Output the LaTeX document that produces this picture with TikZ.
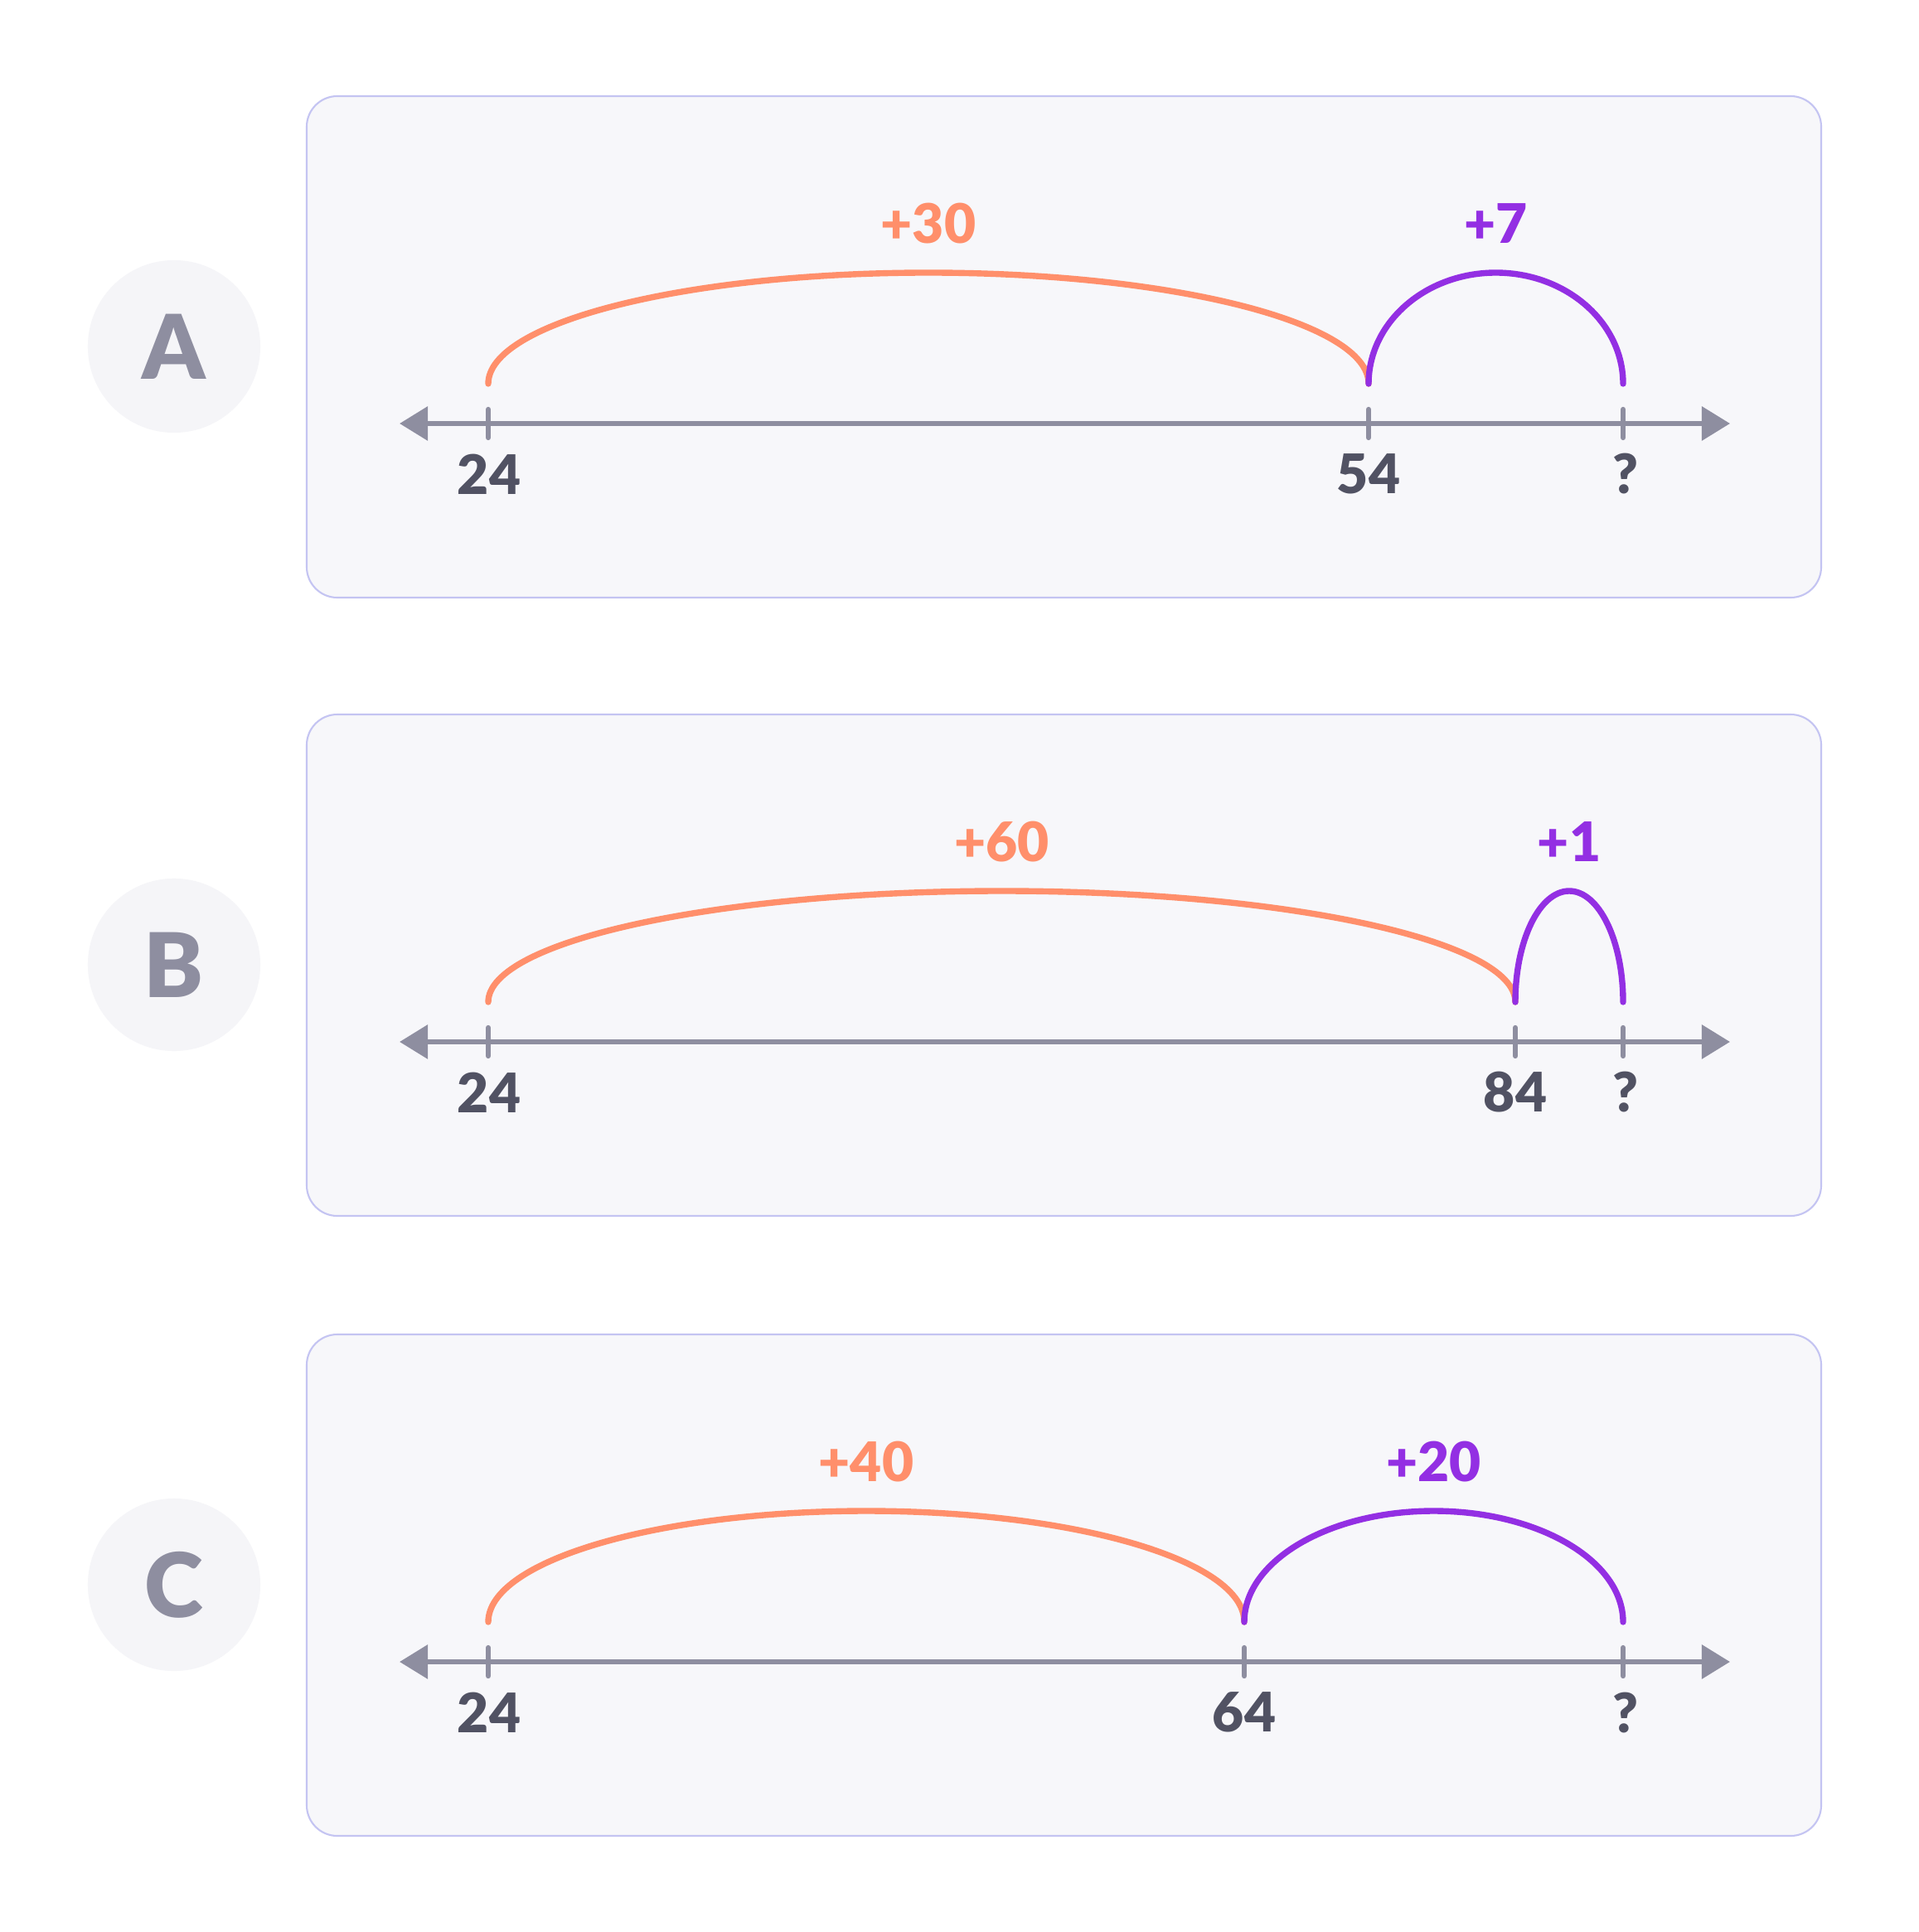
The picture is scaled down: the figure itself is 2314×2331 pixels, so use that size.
\documentclass[tikz,border=0pt]{standalone}
\usepackage{fontspec}
\setmainfont{Lato}[BoldFont={Lato Black}]
\usetikzlibrary{arrows.meta}
\definecolor{boxfill}{HTML}{F7F7FA}
\definecolor{boxline}{HTML}{C4C4F2}
\definecolor{circfill}{HTML}{F5F5F8}
\definecolor{axisgray}{HTML}{8E8EA0}
\definecolor{numdark}{HTML}{515263}
\definecolor{jumporange}{HTML}{FF8F6B}
\definecolor{jumppurple}{HTML}{932FE3}
\tikzset{
  panelbox/.style={draw=boxline, fill=boxfill, line width=0.6pt, rounded corners=10.5pt},
  lettercircle/.style={circle, fill=circfill, minimum size=2.08cm, inner sep=0pt, text=axisgray, font=\fontsize{30.6}{32}\selectfont\bfseries},
  numaxis/.style={draw=axisgray, line width=1.8pt, {Triangle[length=9.7pt,width=11.4pt]}-{Triangle[length=9.7pt,width=11.4pt]}},
  tickmark/.style={draw=axisgray, line width=1.8pt, line cap=round},
  numlabel/.style={text=numdark, font=\fontsize{18.7}{20}\selectfont\bfseries, inner sep=0pt},
  orangearc/.style={draw=jumporange, line width=2.1pt, line cap=round},
  purplearc/.style={draw=jumppurple, line width=2.1pt, line cap=round},
  orangelabel/.style={text=jumporange, font=\fontsize{18.7}{20}\selectfont\bfseries, inner sep=0pt},
  purplelabel/.style={text=jumppurple, font=\fontsize{18.7}{20}\selectfont\bfseries, inner sep=0pt},
}
\newcommand{\mypanel}[6]{%
  \begin{scope}[shift={(0,-#2)}]
    \draw[panelbox] (370,0) rectangle (2197,-605);
    \node[lettercircle] (#1circ) at (210,-302) {#1};
    \coordinate (#1L) at (482,-395);
    \coordinate (#1R) at (2087,-395);
    \draw[numaxis] (#1L) -- (#1R);
    \draw[tickmark] (589,-378) -- (589,-412);
    \draw[tickmark] (#3,-378) -- (#3,-412);
    \draw[tickmark] (1958,-378) -- (1958,-412);
    \node[numlabel] (#1n1) at (590,-456) {24};
    \node[numlabel] (#1n2) at (#3,-456) {#4};
    \node[numlabel] (#1n3) at (1961,-456) {?};
    \coordinate (#1a0) at (589,-347);
    \coordinate (#1a1) at (#3,-347);
    \coordinate (#1a2) at (1958,-347);
    \draw[orangearc] (#1a0) arc[start angle=180, end angle=0, x radius={(#3-589)/2}, y radius=134];
    \draw[purplearc] (#1a1) arc[start angle=180, end angle=0, x radius={(1958-#3)/2}, y radius=134];
    \node[orangelabel] (#1o) at ({(589+#3)/2},-154) {#5};
    \node[purplelabel] (#1p) at ({(#3+1958)/2},-154) {#6};
  \end{scope}%
}
\begin{document}
\begin{tikzpicture}[x=0.01cm, y=0.01cm]
  \useasboundingbox[fill=white] (0,0) rectangle (2314,-2331);
  \mypanel{A}{116}{1651}{54}{+30}{+7}
  \mypanel{B}{862}{1828}{84}{+60}{+1}
  \mypanel{C}{1610}{1501}{64}{+40}{+20}
\end{tikzpicture}
\end{document}
